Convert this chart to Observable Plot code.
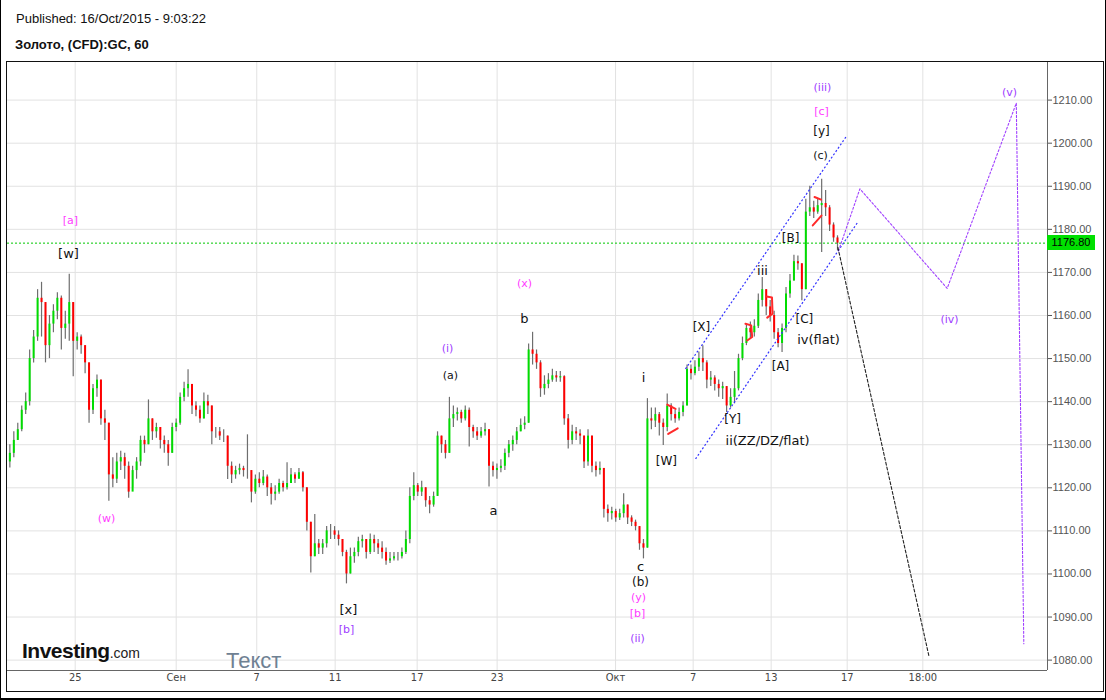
<!DOCTYPE html>
<html>
<head>
<meta charset="utf-8">
<script src="https://cdn.jsdelivr.net/npm/d3@7"></script>
<script src="https://cdn.jsdelivr.net/npm/@observablehq/plot@0.6"></script>
<style>
  body { margin: 0; background: #fff; }
  #page { position: relative; width: 1106px; height: 700px; overflow: hidden; background: #fff;
          font-family: "Liberation Sans", Arial, sans-serif; }
  #edge { position: absolute; left: 0; top: 0; width: 1106px; height: 700px; box-sizing: border-box;
          border-left: 1px solid #000; border-right: 1px solid #000; border-bottom: 2px solid #000; }
  #pub { position: absolute; left: 16px; top: 11px; font-size: 13px; line-height: 16px; color: #111; }
  #sym { position: absolute; left: 15px; top: 37px; font-size: 13px; line-height: 16px; font-weight: bold; color: #111; }
  #box { position: absolute; left: 6px; top: 61px; width: 1098px; height: 631px; box-sizing: border-box;
         border: 1.5px solid #111; }
  #chart { position: absolute; left: 7px; top: 62px; }
  #logo { position: absolute; left: 22px; top: 639px; white-space: nowrap; color: #111; }
  #logo .inv { font-weight: bold; font-size: 21px; letter-spacing: -0.5px; }
  #logo .com { font-size: 14px; color: #222; }
  #tekst { position: absolute; left: 226px; top: 648px; font-size: 22px; color: #6f8193; }
  #last { position: absolute; width: 48px; height: 15px; background: #00e000; color: #000;
          font-size: 11px; line-height: 15px; text-align: center; }
</style>
</head>
<body>
<div id="page">
  <div id="pub">Published: 16/Oct/2015 - 9:03:22</div>
  <div id="sym">Золото, (CFD):GC, 60</div>
  <div id="box"></div>
  <div id="chart"></div>
  <div id="logo"><span class="inv">Investing</span><span class="com">.com</span></div>
  <div id="tekst">Текст</div>
  <div id="last"></div>
  <div id="edge"></div>
</div>
<script>
// ---- price bars (approx. 5 bars per trading day), open = previous close ----
const firstOpen = 1126;
const close = [
  1128, 1131, 1133.5, 1138, 1140, 1150, 1155, 1164, 1163, 1153,
  1158, 1161, 1164, 1157, 1158, 1163, 1154, 1155, 1153, 1149,
  1138, 1143, 1145, 1136, 1135, 1123, 1122, 1126, 1127, 1125,
  1119, 1124, 1126, 1131, 1130, 1136, 1133, 1134, 1131, 1130,
  1128, 1134, 1135, 1141, 1143, 1144, 1139, 1138, 1136, 1140,
  1139, 1133, 1133, 1132, 1132, 1125, 1123, 1124, 1124.5, 1124,
  1124, 1119, 1122, 1121, 1122.5, 1120, 1118.5, 1119, 1121, 1120,
  1121, 1123, 1122, 1123.5, 1120, 1112, 1104, 1107, 1106, 1107,
  1110, 1110, 1109, 1108, 1105, 1100, 1104, 1105, 1107.5, 1108,
  1105, 1108, 1107, 1106, 1105, 1103, 1103.5, 1104, 1104, 1105,
  1108, 1118, 1120.5, 1119, 1120, 1117, 1116, 1118, 1132, 1130,
  1128, 1136, 1137, 1137.5, 1136, 1138, 1134, 1133, 1132, 1133,
  1133.5, 1125, 1124, 1124.5, 1125, 1128, 1130, 1131, 1133, 1134.5,
  1135, 1152, 1151, 1149, 1143, 1144, 1145, 1146, 1145.5, 1145.8,
  1136, 1131, 1133, 1132.5, 1132, 1126, 1132, 1125, 1124, 1124.5,
  1115, 1114, 1114.5, 1113, 1114, 1116, 1113, 1112, 1111, 1107,
  1106, 1136, 1135.5, 1137, 1135, 1134, 1139, 1137, 1136, 1137.5,
  1139, 1147.5, 1146.5, 1148, 1150, 1149, 1145, 1145.5, 1144, 1143,
  1143.5, 1139, 1141, 1143, 1150, 1153.5, 1157, 1156, 1157.5, 1163.5,
  1166, 1162, 1160, 1156, 1153.5, 1157, 1165, 1168, 1172.5, 1172,
  1166, 1184, 1185, 1184, 1185.5, 1186, 1185, 1181, 1178, 1176.8
];
const high = [
  1130, 1133, 1135, 1139, 1142, 1152, 1156.5, 1166, 1167.7, 1163,
  1160, 1162.5, 1165.3, 1164.5, 1161, 1169.6, 1163, 1156, 1155.5, 1153,
  1149, 1144, 1146.2, 1145, 1138, 1135, 1127, 1128, 1128.5, 1128,
  1126, 1125, 1127, 1132, 1132, 1140.4, 1136, 1135, 1134, 1132,
  1131, 1135, 1136, 1142, 1144.5, 1147.4, 1144, 1140, 1139, 1142,
  1141.5, 1139, 1134, 1134, 1133.5, 1132, 1126, 1125, 1125.5, 1125,
  1132.3, 1124, 1123, 1123.5, 1124, 1123, 1121, 1120.5, 1122, 1121.5,
  1125.8, 1124.5, 1123.5, 1124.5, 1123.8, 1120, 1112, 1113.8, 1108, 1108,
  1111, 1111.5, 1111, 1110, 1108, 1105.5, 1106, 1106, 1108.5, 1109,
  1108, 1109.3, 1109, 1108, 1107.5, 1106, 1105, 1105, 1105, 1106,
  1110, 1120, 1123.5, 1121, 1121.5, 1120, 1118, 1119, 1133, 1132,
  1131, 1141, 1139, 1138.5, 1138, 1139, 1138.5, 1134.5, 1134, 1134,
  1135, 1133.5, 1126, 1125.5, 1126.5, 1129, 1131, 1132, 1134, 1136,
  1136.5, 1153.4, 1156.1, 1152, 1149.5, 1146, 1146.5, 1147.5, 1147, 1147,
  1146, 1137, 1134.5, 1134, 1133.5, 1132, 1133.5, 1132, 1126, 1126,
  1124.5, 1116, 1115.5, 1115, 1115, 1118.6, 1116, 1113.5, 1112.5, 1111,
  1108, 1140.7, 1138.5, 1138.5, 1137.5, 1136, 1141.8, 1139.5, 1138, 1138.5,
  1140, 1148.5, 1148.5, 1149.5, 1151.5, 1153, 1149.5, 1147, 1146, 1145,
  1144.5, 1143.5, 1143, 1147, 1151, 1155, 1158, 1158.5, 1159, 1165,
  1168.8, 1166, 1163.5, 1161, 1157, 1158, 1166.5, 1169.5, 1174, 1173.8,
  1172, 1187, 1190, 1186.5, 1187, 1191.6, 1189, 1185.5, 1181.5, 1178.5
];
const low = [
  1124.6, 1127, 1131, 1133, 1137, 1139, 1149, 1154, 1155, 1149,
  1150, 1156, 1159, 1152, 1154.5, 1154, 1145.8, 1152, 1151, 1146.5,
  1135, 1137, 1141, 1134.5, 1131, 1116.9, 1120, 1121, 1124, 1122,
  1117.6, 1120, 1122, 1125, 1128, 1130, 1131, 1131.5, 1129, 1128,
  1125, 1128, 1133, 1134.5, 1140, 1141, 1137, 1136.5, 1135, 1136,
  1137, 1130, 1131.5, 1131, 1130.5, 1121.9, 1121, 1122, 1123, 1122.5,
  1122, 1116.5, 1118.5, 1120, 1120.5, 1118, 1116, 1117, 1118.5, 1119,
  1119.5, 1121, 1121, 1122, 1119, 1110, 1100.2, 1104, 1104.5, 1104.5,
  1106, 1108, 1108, 1106.5, 1104, 1097.7, 1100, 1102.5, 1104, 1106,
  1103.5, 1104.5, 1105, 1104.5, 1103.5, 1102, 1102.4, 1103, 1103, 1103.5,
  1104.5, 1107, 1117, 1118, 1118, 1115.5, 1114, 1115.5, 1118, 1128,
  1126.7, 1128, 1134, 1135.5, 1135, 1135.5, 1129.5, 1131.5, 1131, 1131.5,
  1132, 1120.2, 1122.5, 1122, 1123.5, 1124, 1127, 1128.5, 1130, 1133,
  1133.5, 1135, 1148.5, 1147.5, 1141, 1141.5, 1143, 1144.5, 1144.5, 1144.5,
  1134.5, 1129, 1130, 1131, 1130, 1124.5, 1125, 1123.5, 1122.5, 1123,
  1113, 1112, 1112.5, 1112, 1112.4, 1113, 1111.5, 1111, 1110, 1105.5,
  1103.5, 1106, 1133.5, 1134, 1132, 1129.8, 1133, 1135.5, 1135, 1135.5,
  1136.5, 1139, 1145, 1146, 1147, 1147, 1143, 1143.5, 1142.5, 1141,
  1140.5, 1137.5, 1138.5, 1139.5, 1142.5, 1149.5, 1153, 1154.5, 1155, 1157,
  1162, 1160, 1158.5, 1154.5, 1152.5, 1151.4, 1156, 1164, 1168, 1170.5,
  1163.4, 1166, 1183, 1182.5, 1183.5, 1174.6, 1183, 1179.5, 1177, 1175
];
const barStart = -3.3;   // trading-day index of first bar (0 = 25 Aug)
const barStep = 0.2;     // trading days per bar
const lastPrice = 1176.8;

// ---- axes ----
const xTickDays = [0, 5.10, 9.17, 13.13, 17.27, 21.31, 27.29, 31.21, 35.15, 38.99, 42.81];
const xTickLabels = ["25", "Сен", "7", "11", "17", "23", "Окт", "7", "13", "17", "18:00"];
const yTicks = [1080, 1090, 1100, 1110, 1120, 1130, 1140, 1150, 1160, 1170, 1180, 1190, 1200, 1210];
const xDomain = [-3.419, 49.106];
const yDomain = [1077.59, 1218.73];

// ---- wave labels ----
const labelText = ["[a]","[w]","(w)","[x]","[b]","(i)","(a)","a","(x)","b","i","c","(b)","(y)","[b]","(ii)",
  "[W]","[X]","[Y]","ii(ZZ/DZ/flat)","iii","[A]","[B]","[C]","iv(flat)","(iii)","[c]","[y]","(c)","(iv)","(v)"];
const labelDay = [-0.24,-0.34,1.58,13.80,13.70,18.80,18.95,21.13,22.69,22.69,28.70,28.55,28.55,28.45,28.40,28.40,
  29.86,31.63,33.20,34.97,34.71,35.62,36.13,36.83,37.54,37.74,37.69,37.69,37.64,44.16,47.19];
const labelPrice = [1182.1,1174.2,1112.9,1091.7,1087.1,1152.3,1146.1,1114.7,1167.4,1159.3,1145.6,1101.7,1098.2,1094.5,1090.8,1085.0,
  1126.3,1157.2,1135.9,1131.0,1170.4,1148.2,1177.9,1159.1,1154.4,1212.9,1207.4,1202.7,1197.1,1159.1,1211.8];
const labelKind = ["m","k","m","k","p","p","k","k","m","k","k","k","k","m","m","p",
  "k","k","k","k","k","k","k","k","k","p","m","k","k","p","p"];
const labelSize = [11,13,11,13,11,11,11,13,11,13,13,13,12,11,11,11,12,12,12,13,13,12,12,12,13,11,11,12,11,11,11];
const kindColor = {k: "#111111", m: "#ff3cff", p: "#a040ff"};

// ---- drawn lines ----
const chanX1 = [30.82, 31.33], chanY1 = [1147.6, 1126.7], chanX2 = [38.95, 39.53], chanY2 = [1201.6, 1181.7];
const purpleDay = [38.55, 39.63, 44.04, 47.53, 47.91];
const purplePrice = [1175, 1189.4, 1166.3, 1209.3, 1083.8];
const blackDay = [38.52, 43.11];
const blackPrice = [1175.8, 1081.1];
const redSeg = [1, 1, 2, 2, 3, 3, 3, 3, 4, 4, 4, 4, 5, 5, 6, 6];
const redDay = [29.90, 30.32, 29.95, 30.43, 34.92, 35.19, 35.22, 34.95, 33.85, 34.14, 34.19, 33.94, 37.34, 37.67, 37.25, 37.69];
const redPrice = [1139.3, 1138.3, 1132.5, 1133.8, 1164.4, 1164.2, 1160.4, 1159.5, 1158.1, 1157.7, 1155.0, 1154.2, 1187.5, 1186.9, 1180.9, 1183.2];

// ---- build tables ----
const bars = close.map((c, i) => ({t: barStart + i * barStep, o: i ? close[i - 1] : firstOpen, h: high[i], l: low[i], c}));
const upBars = bars.filter(d => d.c >= d.o);
const downBars = bars.filter(d => d.c < d.o);
const labels = labelText.map((s, i) => ({s, x: labelDay[i], y: labelPrice[i], color: kindColor[labelKind[i]], size: labelSize[i]}));
const channels = chanX1.map((x1, i) => ({x1, y1: chanY1[i], x2: chanX2[i], y2: chanY2[i]}));
const purple = purpleDay.map((x, i) => ({x, y: purplePrice[i]}));
const black = blackDay.map((x, i) => ({x, y: blackPrice[i]}));
const red = redDay.map((x, i) => ({x, y: redPrice[i], z: redSeg[i]}));
const tickLabel = new Map(xTickDays.map((d, i) => [d, xTickLabels[i]]));

const chart = Plot.plot({
  width: 1096, height: 629,
  marginTop: 0, marginLeft: 0, marginRight: 56, marginBottom: 21,
  style: {fontFamily: "'Liberation Sans', Arial, sans-serif", fontSize: "11px", color: "#333", background: "transparent", overflow: "visible"},
  x: {domain: xDomain},
  y: {domain: yDomain},
  color: {type: "identity"},
  marks: [
    Plot.gridY(yTicks, {stroke: "#e2e2e2", strokeOpacity: 1}),
    Plot.gridX(xTickDays, {stroke: "#e2e2e2", strokeOpacity: 1}),
    Plot.ruleY([lastPrice], {stroke: "#00c800", strokeDasharray: "2,2"}),
    Plot.ruleX(bars, {x: "t", y1: "l", y2: "h", stroke: "#6e6e6e", strokeWidth: 1.2}),
    Plot.ruleX(upBars, {x: "t", y1: "o", y2: "c", stroke: "#00dd00", strokeWidth: 2}),
    Plot.ruleX(downBars, {x: "t", y1: "o", y2: "c", stroke: "#ff0000", strokeWidth: 2}),
    Plot.line(red, {x: "x", y: "y", z: "z", stroke: "#ff2a2a", strokeWidth: 2}),
    Plot.link(channels, {x1: "x1", y1: "y1", x2: "x2", y2: "y2", stroke: "#3333ff", strokeWidth: 1.2, strokeDasharray: "2,2"}),
    Plot.line(purple, {x: "x", y: "y", stroke: "#a040ff", strokeWidth: 1.1, strokeDasharray: "2,2"}),
    Plot.line(black, {x: "x", y: "y", stroke: "#222", strokeWidth: 1.1, strokeDasharray: "3,2"}),
    Plot.text(labels, {x: "x", y: "y", text: "s", fill: "color", fontSize: "size", fontFamily: "'DejaVu Sans', Verdana, sans-serif"}),
    Plot.ruleX([xDomain[1]], {stroke: "#666"}),
    Plot.ruleY([yDomain[0]], {stroke: "#666"}),
    Plot.axisY({anchor: "right", ticks: yTicks, tickFormat: d => d.toFixed(2), tickSize: 4, tickPadding: 1, color: "#555", label: null, fontSize: 11}),
    Plot.axisX({anchor: "bottom", ticks: xTickDays, tickFormat: d => tickLabel.get(d), tickSize: 0, tickPadding: 3, label: null,
      fontSize: 11, fill: "#444", fontFamily: "'Liberation Sans Narrow', 'DejaVu Sans Condensed', 'Arial Narrow', sans-serif"})
  ]
});
document.getElementById("chart").appendChild(chart);

const ys = chart.scale("y"), xs = chart.scale("x");
const badge = document.getElementById("last");
badge.textContent = lastPrice.toFixed(2);
badge.style.left = (7 + xs.range[1]) + "px";
badge.style.top = (62 + ys.apply(lastPrice) - 7.5) + "px";
</script>
</body>
</html>
